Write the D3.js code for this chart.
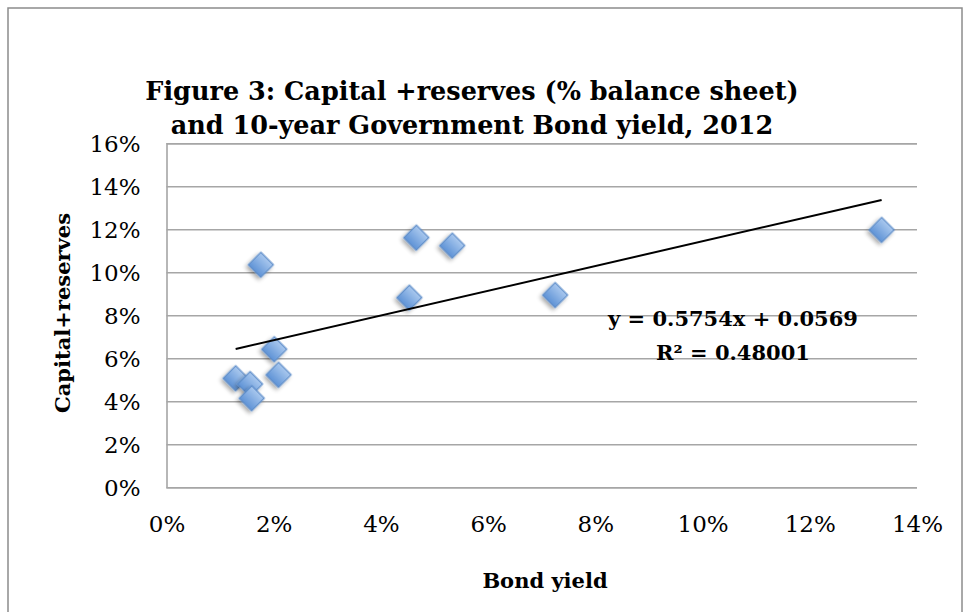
<!DOCTYPE html>
<html><head><meta charset="utf-8">
<script src="https://cdn.jsdelivr.net/npm/d3@7/dist/d3.min.js"></script>
<style>body{margin:0;background:#fff}svg{display:block}</style>
</head><body>
<svg id="chart" width="965" height="612"></svg>
<script>
const titleLines = ["Figure 3: Capital +reserves (% balance sheet)", "and 10-year Government Bond yield, 2012"];
const xTitle = "Bond yield";
const yTitle = "Capital+reserves";
const bondYield = [0.0129, 0.0156, 0.0159, 0.0176, 0.0201, 0.0209, 0.0453, 0.0466, 0.0533, 0.0725, 0.1334];
const capitalReserves = [0.0507, 0.0480, 0.0414, 0.1035, 0.0642, 0.0523, 0.0882, 0.1161, 0.1124, 0.0894, 0.1197];
const xTicks = [0, 0.02, 0.04, 0.06, 0.08, 0.10, 0.12, 0.14];
const yTicks = [0, 0.02, 0.04, 0.06, 0.08, 0.10, 0.12, 0.14, 0.16];
const trendSlope = 0.5754, trendIntercept = 0.0569, trendR2 = "0.48001";

const svg = d3.select("#chart");
const font = "'DejaVu Serif', serif";
const L = 166.5, R = 917, T = 143.3, B = 487.3;
const x = d3.scaleLinear().domain([0, 0.14]).range([L, R]);
const y = d3.scaleLinear().domain([0, 0.16]).range([B, T]);
const pct = d3.format(".0%");

svg.append("rect").attr("width", 965).attr("height", 612).attr("fill", "#fff");
svg.append("rect").attr("x", 8).attr("y", 8).attr("width", 954).attr("height", 620)
  .attr("fill", "none").attr("stroke", "#8c8c8c").attr("stroke-width", 1.5);

const defs = svg.append("defs");
const grad = defs.append("linearGradient").attr("id", "dg").attr("x1", 0).attr("y1", 0).attr("x2", 0).attr("y2", 1);
grad.append("stop").attr("offset", "0%").attr("stop-color", "#a9c8ee");
grad.append("stop").attr("offset", "100%").attr("stop-color", "#5f93d6");
const f = defs.append("filter").attr("id", "sh").attr("x", "-50%").attr("y", "-50%").attr("width", "200%").attr("height", "200%");
f.append("feGaussianBlur").attr("in", "SourceAlpha").attr("stdDeviation", 2).attr("result", "b");
f.append("feOffset").attr("in", "b").attr("dy", 3).attr("result", "o");
f.append("feComponentTransfer").attr("in", "o").attr("result", "o2").append("feFuncA").attr("type", "linear").attr("slope", 0.35);
const m = f.append("feMerge"); m.append("feMergeNode").attr("in", "o2"); m.append("feMergeNode").attr("in", "SourceGraphic");

// gridlines
svg.append("g").attr("transform", `translate(${L},0)`)
  .call(d3.axisLeft(y).tickValues(yTicks).tickSize(-(R - L)).tickFormat(""))
  .call(g => g.select(".domain").attr("stroke", "#a0a0a0").attr("stroke-width", 1.5))
  .call(g => g.selectAll(".tick line").attr("stroke", "#a6a6a6").attr("stroke-width", 1.5));

// y tick labels
svg.append("g").attr("transform", `translate(${L},0)`)
  .call(d3.axisLeft(y).tickValues(yTicks).tickSize(0).tickPadding(26).tickFormat(pct))
  .call(g => g.select(".domain").remove())
  .call(g => g.selectAll("text").attr("font-family", font).attr("font-size", 23).attr("fill", "#000").attr("dy", "0.36em"));

// x tick labels
svg.append("g").attr("transform", `translate(0,${B})`)
  .call(d3.axisBottom(x).tickValues(xTicks).tickSize(0).tickPadding(28).tickFormat(pct))
  .call(g => g.select(".domain").remove())
  .call(g => g.selectAll("text").attr("font-family", font).attr("font-size", 23).attr("fill", "#000"));

// points
const data = bondYield.map((v, i) => ({ x: v, y: capitalReserves[i] }));
svg.append("g").selectAll("path").data(data).join("path")
  .attr("d", d3.symbol(d3.symbolSquare, 310))
  .attr("transform", d => `translate(${x(d.x)},${y(d.y)}) rotate(45)`)
  .attr("fill", "url(#dg)").attr("stroke", "#5a8bc9").attr("stroke-width", 1.2)
  .attr("filter", "url(#sh)");

// trendline
const xr = d3.extent(bondYield);
svg.append("line")
  .attr("x1", x(xr[0])).attr("y1", y(trendSlope * xr[0] + trendIntercept))
  .attr("x2", x(xr[1])).attr("y2", y(trendSlope * xr[1] + trendIntercept))
  .attr("stroke", "#000").attr("stroke-width", 2);

// equation
const eq = svg.append("text").attr("font-family", font).attr("font-weight", "bold").attr("font-size", 21).attr("text-anchor", "middle");
eq.append("tspan").attr("x", 733).attr("y", 326).text(`y = ${trendSlope}x + ${trendIntercept}`);
eq.append("tspan").attr("x", 733).attr("y", 360).text("R² = " + trendR2);

// titles
const tt = svg.append("text").attr("font-family", font).attr("font-weight", "bold").attr("font-size", 25.5).attr("text-anchor", "middle");
titleLines.forEach((t, i) => tt.append("tspan").attr("x", 472).attr("y", 100 + i * 34).text(t));

svg.append("text").attr("x", 545).attr("y", 588).attr("text-anchor", "middle")
  .attr("font-family", font).attr("font-weight", "bold").attr("font-size", 21).text(xTitle);
svg.append("text").attr("transform", "translate(70,313) rotate(-90)").attr("text-anchor", "middle")
  .attr("font-family", font).attr("font-weight", "bold").attr("font-size", 21).text(yTitle);
</script>
</body></html>
